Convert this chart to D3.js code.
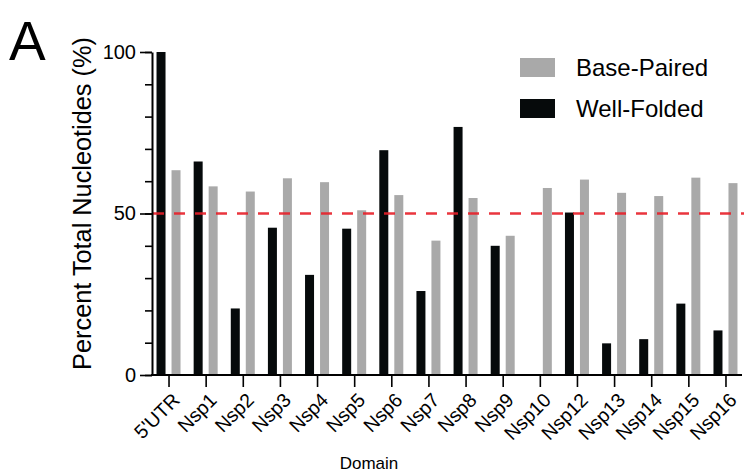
<!DOCTYPE html>
<html>
<head>
<meta charset="utf-8">
<script src="https://cdn.jsdelivr.net/npm/d3@7/dist/d3.min.js"></script>
<style>
    html, body { margin: 0; padding: 0; background: #fff; }
    svg { display: block; font-family: "Liberation Sans", Arial, Helvetica, sans-serif; }
</style>
</head>
<body>
<div id="chart"></div>
<script>
// Domains along the genome
const domains = ["5'UTR", "Nsp1", "Nsp2", "Nsp3", "Nsp4", "Nsp5", "Nsp6", "Nsp7",
    "Nsp8", "Nsp9", "Nsp10", "Nsp12", "Nsp13", "Nsp14", "Nsp15", "Nsp16"];

// Percent of total nucleotides per domain
const wellFolded = [100, 66.1, 20.6, 45.6, 31.0, 45.3, 69.6, 26.0,
    76.8, 40.0, 0, 50.3, 9.8, 11.1, 22.1, 13.8];
const basePaired = [63.4, 58.4, 56.8, 60.9, 59.7, 51.0, 55.7, 41.6,
    54.8, 43.1, 57.9, 60.5, 56.4, 55.4, 61.1, 59.4];

const seriesNames = ["Base-Paired", "Well-Folded"];
const yTicks = [0, 50, 100];
const threshold = 50;

function drawChart() {
    const width = 744;
    const height = 474;

    const svg = d3.select('#chart')
        .append('svg')
        .attr('width', width)
        .attr('height', height)
        .attr('viewBox', `0 0 ${width} ${height}`);

    // Scales
    const x = d3.scalePoint()
        .domain(domains)
        .range([152, 742])
        .padding(0.445);

    const xSub = d3.scaleBand()
        .domain(['wf', 'bp'])
        .range([-15, 15])
        .paddingInner(0.4)
        .paddingOuter(0.2);

    const y = d3.scaleLinear()
        .domain([0, 100])
        .range([375, 52]);

    const color = d3.scaleOrdinal()
        .domain(seriesNames)
        .range(['#a9a9a9', '#060a0b']);

    // Rows for bars
    const rows = domains.map((d, i) => ({ name: d, wf: wellFolded[i], bp: basePaired[i] }));

    const groups = svg.selectAll('.domain-group')
        .data(rows)
        .enter()
        .append('g')
        .attr('class', 'domain-group')
        .attr('transform', d => `translate(${x(d.name)},0)`);

    groups.selectAll('rect')
        .data(d => [{ key: 'wf', value: d.wf }, { key: 'bp', value: d.bp }])
        .enter()
        .append('rect')
        .attr('x', d => xSub(d.key))
        .attr('width', xSub.bandwidth())
        .attr('y', d => y(d.value))
        .attr('height', d => y(0) - y(d.value))
        .attr('fill', d => d.key === 'wf' ? color('Well-Folded') : color('Base-Paired'));

    // 50% reference line
    svg.append('line')
        .attr('x1', 153)
        .attr('x2', width)
        .attr('y1', y(threshold))
        .attr('y2', y(threshold))
        .attr('stroke', '#e8202a')
        .attr('stroke-width', 2.6)
        .attr('stroke-dasharray', '11,10')
        .attr('opacity', 0.9);

    // Y axis: minor ticks every 10, labels at 0/50/100
    const yAxisMinor = d3.axisLeft(y)
        .tickValues(d3.range(0, 101, 10))
        .tickSize(7)
        .tickFormat('');
    svg.append('g')
        .attr('transform', 'translate(152,0)')
        .call(yAxisMinor)
        .call(g => g.select('.domain').remove())
        .selectAll('line')
        .attr('stroke', '#000')
        .attr('stroke-width', 1.6);

    const yAxis = d3.axisLeft(y)
        .tickValues(yTicks)
        .tickSize(12)
        .tickSizeOuter(0)
        .tickPadding(4);
    const yg = svg.append('g')
        .attr('transform', 'translate(152,0)')
        .call(yAxis);
    yg.select('.domain').attr('stroke', '#000').attr('stroke-width', 2);
    yg.selectAll('line').attr('stroke', '#000').attr('stroke-width', 1.6);
    yg.selectAll('text')
        .style('font-size', '20px')
        .style('fill', '#000')
        .attr('font-family', 'Liberation Sans, Arial, sans-serif');

    // X axis
    const xAxis = d3.axisBottom(x)
        .tickSize(12)
        .tickSizeOuter(0)
        .tickFormat('');
    const xg = svg.append('g')
        .attr('transform', `translate(0,${y(0)})`)
        .call(xAxis);
    xg.select('.domain')
        .attr('d', `M151,0H742`)
        .attr('stroke', '#000')
        .attr('stroke-width', 2);
    xg.selectAll('line').attr('stroke', '#000').attr('stroke-width', 1.6);

    // Rotated domain labels
    svg.selectAll('.x-label')
        .data(domains)
        .enter()
        .append('text')
        .attr('class', 'x-label')
        .attr('transform', d => `translate(${x(d) + 7.5},${y(0) + 21.5}) rotate(-45)`)
        .attr('dy', '0.35em')
        .attr('text-anchor', 'end')
        .style('font-size', '19.5px')
        .style('fill', '#000')
        .text(d => d);

    // Axis titles
    svg.append('text')
        .attr('transform', 'translate(90.5,203.5) rotate(-90)')
        .attr('text-anchor', 'middle')
        .style('font-size', '25.3px')
        .style('fill', '#000')
        .text('Percent Total Nucleotides (%)');

    svg.append('text')
        .attr('x', 369)
        .attr('y', 469)
        .attr('text-anchor', 'middle')
        .style('font-size', '17px')
        .style('fill', '#000')
        .text('Domain');

    // Panel letter
    svg.append('text')
        .attr('x', 9)
        .attr('y', 60)
        .style('font-size', '55px')
        .style('fill', '#000')
        .text('A');

    // Legend
    const legend = svg.selectAll('.legend')
        .data(seriesNames)
        .enter()
        .append('g')
        .attr('class', 'legend')
        .attr('transform', (d, i) => `translate(520, ${58 + i * 41})`);

    legend.append('rect')
        .attr('width', 35)
        .attr('height', 19)
        .attr('fill', d => color(d));

    legend.append('text')
        .attr('x', 56)
        .attr('y', 18)
        .style('font-size', '24px')
        .style('fill', '#000')
        .text(d => d);
}

document.addEventListener('DOMContentLoaded', drawChart);
</script>
</body>
</html>
